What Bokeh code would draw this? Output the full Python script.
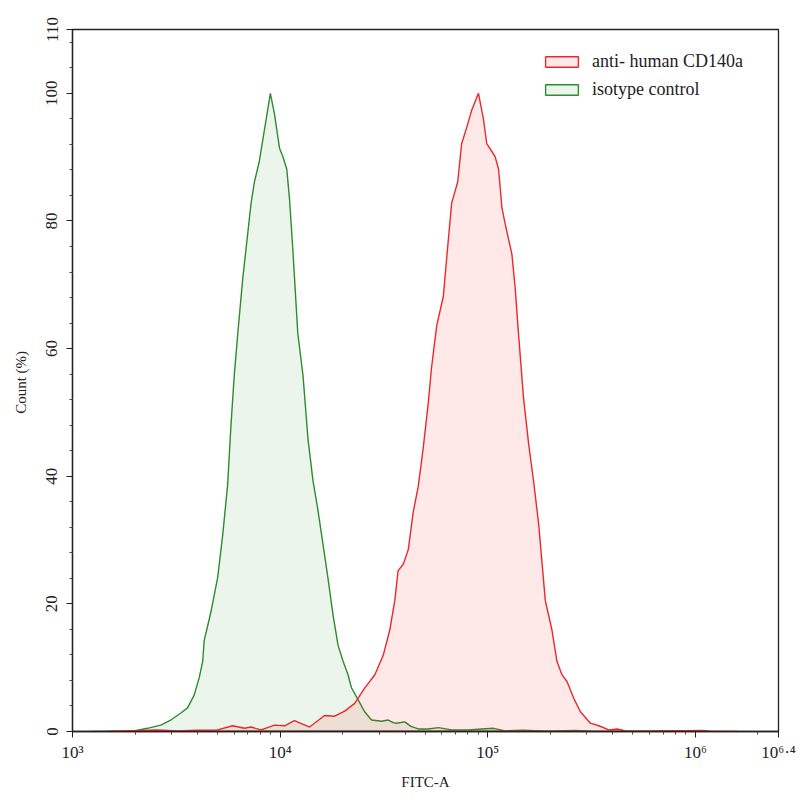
import numpy as np
from bokeh.plotting import figure
from bokeh.models import FixedTicker, Legend, LegendItem, Range1d
from bokeh.embed import file_html
from bokeh.resources import INLINE

# ---- data (x given as log10 of FITC-A intensity, y = Count %) ----
series_names = ["anti- human CD140a", "isotype control"]

red_log_x = [3.168, 3.409, 3.506, 3.602, 3.699, 3.771, 3.828, 3.860, 3.908, 3.973,
             4.021, 4.069, 4.142, 4.214, 4.262, 4.311, 4.359, 4.407, 4.456, 4.496,
             4.528, 4.552, 4.568, 4.593, 4.617, 4.641, 4.665, 4.689, 4.714, 4.729,
             4.754, 4.786, 4.802, 4.826, 4.855, 4.874, 4.899, 4.923, 4.955, 4.979,
             4.995, 5.035, 5.052, 5.068, 5.084, 5.116, 5.132, 5.148, 5.172, 5.197,
             5.221, 5.245, 5.277, 5.309, 5.333, 5.357, 5.382, 5.414, 5.446, 5.494,
             5.535, 5.583, 5.623, 5.664, 5.770, 6.034, 6.080, 6.200]
red_count = [0.0, 0.26, 0.1, 0.2, 0.26, 0.9, 0.5, 0.7, 0.26, 1.0,
             0.9, 1.7, 0.7, 2.5, 2.4, 3.2, 4.4, 6.8, 8.9, 11.9,
             15.9, 20.5, 25.2, 26.2, 28.5, 34.4, 38.4, 44.4, 51.7, 57.0,
             63.6, 68.2, 74.2, 82.8, 86.1, 92.1, 94.7, 97.4, 100.0, 96.0,
             92.1, 90.1, 88.1, 82.1, 79.5, 74.8, 69.5, 62.3, 52.3, 45.0,
             39.1, 32.5, 20.5, 15.9, 11.0, 8.9, 7.8, 5.2, 3.1, 1.3,
             0.9, 0.26, 0.4, 0.1, 0.05, 0.15, 0.0, 0.0]

green_log_x = [3.087, 3.296, 3.361, 3.425, 3.473, 3.522, 3.554, 3.586, 3.610, 3.627,
               3.634, 3.667, 3.699, 3.723, 3.747, 3.763, 3.779, 3.796, 3.820, 3.860,
               3.876, 3.900, 3.953, 3.973, 3.997, 4.013, 4.032, 4.045, 4.061, 4.085,
               4.110, 4.134, 4.158, 4.182, 4.206, 4.230, 4.255, 4.279, 4.303, 4.327,
               4.343, 4.375, 4.407, 4.440, 4.488, 4.520, 4.545, 4.560, 4.600, 4.630,
               4.665, 4.713, 4.762, 4.826, 4.907, 4.971, 5.028, 5.084, 5.164, 5.293,
               5.420, 5.520, 5.950, 6.000]
green_count = [0.0, 0.1, 0.5, 1.0, 1.8, 2.9, 3.7, 5.7, 8.4, 11.0,
               14.2, 18.8, 24.1, 30.7, 38.6, 47.9, 55.8, 62.4, 71.0, 82.8,
               86.1, 89.4, 100.0, 96.7, 91.4, 90.1, 88.1, 83.5, 75.6, 62.4,
               55.8, 45.9, 39.3, 34.7, 29.4, 24.1, 18.2, 13.5, 11.0, 8.9,
               6.9, 5.0, 3.1, 1.8, 1.6, 1.8, 1.4, 1.3, 1.5, 0.8,
               0.4, 0.4, 0.6, 0.26, 0.26, 0.4, 0.5, 0.1, 0.2, 0.05,
               0.15, 0.0, 0.1, 0.0]

x_tick_exponents = [3, 4, 5, 6, 6.4]
x_tick_labels = ["10\u00b3", "10\u2074", "10\u2075", "10\u2076", "10\u2076\u00b7\u2074"]
y_ticks = [0, 20, 40, 60, 80, 100, 110]
x_title = "FITC-A"
y_title = "Count  (%)"

FONT = "Liberation Serif"

red_x = [10 ** e for e in red_log_x]
green_x = [10 ** e for e in green_log_x]
x_ticks = [10 ** e for e in x_tick_exponents]
x_lo, x_hi = x_ticks[0], x_ticks[-1]

p = figure(width=800, height=800, x_axis_type="log",
           x_range=Range1d(x_lo, x_hi), y_range=Range1d(0, 110),
           output_backend="svg", toolbar_location=None,
           min_border_left=72, min_border_right=22,
           min_border_top=29, min_border_bottom=69)

p.background_fill_color = "white"
p.border_fill_color = "white"
p.xgrid.visible = False
p.ygrid.visible = False
p.outline_line_color = "#222222"
p.outline_line_width = 1.3

g = p.patch(green_x, green_count, fill_color="#008000", fill_alpha=0.08,
            line_color="#2e8b2e", line_width=1.4)
r = p.patch(red_x, red_count, fill_color="#ff0000", fill_alpha=0.09,
            line_color="#e8292c", line_width=1.4)

# axes
minor_x = [m * 10 ** d for d in range(3, 7) for m in range(2, 10) if m * 10 ** d <= x_hi]
p.xaxis.ticker = FixedTicker(ticks=x_ticks, minor_ticks=minor_x)
p.xaxis.major_label_overrides = {t: lab for t, lab in zip(x_ticks, x_tick_labels)}
minor_y = [v for v in range(0, 111, 4) if v % 20 != 0]
p.yaxis.ticker = FixedTicker(ticks=y_ticks, minor_ticks=minor_y)
p.yaxis.major_label_orientation = "vertical"

for ax in (p.xaxis[0], p.yaxis[0]):
    ax.axis_line_color = "#222222"
    ax.axis_line_width = 1.3
    ax.major_tick_line_color = "#222222"
    ax.minor_tick_line_color = "#444444"
    ax.major_tick_in = 0
    ax.major_tick_out = 6
    ax.minor_tick_in = 0
    ax.minor_tick_out = 3
    ax.major_label_text_font = FONT
    ax.major_label_text_color = "#222222"
    ax.major_label_text_font_size = "17px"
    ax.axis_label_text_font = FONT
    ax.axis_label_text_font_style = "normal"
    ax.axis_label_text_color = "#222222"
    ax.axis_label_text_font_size = "15px"

p.xaxis.major_label_standoff = 5
p.yaxis.major_label_standoff = 9
p.xaxis.axis_label = x_title
p.yaxis.axis_label = y_title
p.xaxis.axis_label_standoff = 9
p.yaxis.axis_label_standoff = 15

legend = Legend(items=[LegendItem(label=series_names[0], renderers=[r]),
                       LegendItem(label=series_names[1], renderers=[g])],
                location=(461, 623))
legend.border_line_alpha = 0
legend.background_fill_alpha = 0
legend.label_text_font = FONT
legend.label_text_font_size = "18px"
legend.label_text_color = "#222222"
legend.glyph_width = 41
legend.glyph_height = 13
legend.label_height = 22
legend.spacing = 6
legend.padding = 8
legend.label_standoff = 10
p.add_layout(legend)

open("out.html", "w").write(file_html(p, INLINE))
